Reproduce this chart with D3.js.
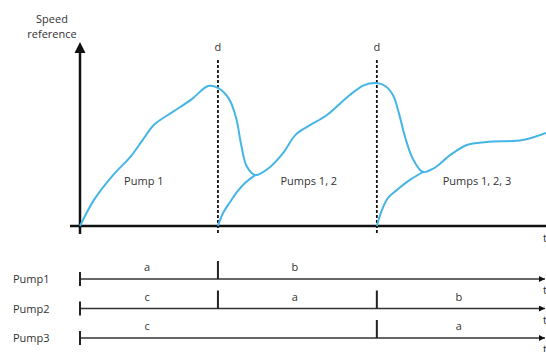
<!DOCTYPE html>
<html lang="en">
<head>
<meta charset="UTF-8" />
<title>Speed reference</title>
<style>
body { margin: 0; background: #fff; }
svg { display: block; font-family: "Open Sans", "Liberation Sans", sans-serif; }
.lbl { font-size: 11px; fill: #333; }
</style>
</head>
<body>
<svg id="chart" width="546" height="352"></svg>
<script src="https://cdn.jsdelivr.net/npm/d3@7"></script>
<script>
// switch moments (d) on the time axis, 0..10
const switchTimes = [2.96, 6.37];

// speed reference curves: [time, speed]
const mainCurve = [
  [0, 0], [0.3, 14.5], [0.7, 28], [1.1, 39], [1.35, 48], [1.6, 56.5], [2.0, 63.5],
  [2.4, 70.5], [2.75, 77.8], [2.96, 76.7], [3.2, 70.5], [3.35, 60], [3.46, 45],
  [3.58, 33], [3.76, 28.3], [4.08, 32.8], [4.36, 40.6], [4.62, 50.5], [4.9, 55.5],
  [5.3, 61.7], [5.79, 72.8], [6.1, 78.3], [6.35, 79.4], [6.55, 77.8], [6.72, 72.5],
  [6.85, 62], [6.98, 49], [7.15, 37], [7.36, 30], [7.6, 32.2], [7.95, 39.5],
  [8.3, 45], [8.73, 46.7], [9.5, 47.8], [10, 51.7]
];
const pump2Curve = [[2.96, 0], [3.07, 7.2], [3.22, 13.3], [3.37, 18.9], [3.54, 23.9], [3.76, 28.3]];
const pump3Curve = [[6.37, 0], [6.48, 8.9], [6.61, 15.6], [6.8, 20], [7.08, 25.6], [7.36, 30]];

// region labels under the curve: [time, speed, text]
const regionLabels = [[1.37, 23, "Pump 1"], [4.91, 23, "Pumps 1, 2"], [8.52, 23, "Pumps 1, 2, 3"]];

// timeline rows
const pumps = ["Pump1", "Pump2", "Pump3"];
const pumpTicks = [[2.96], [2.96, 6.37], [6.37]];
const pumpLetters = [
  [[1.44, "a"], [4.61, "b"]],
  [[1.44, "c"], [4.61, "a"], [8.13, "b"]],
  [[1.44, "c"], [8.13, "a"]]
];

const svg = d3.select("#chart");
const x = d3.scaleLinear().domain([0, 10]).range([80, 546]);
const y = d3.scaleLinear().domain([0, 100]).range([226, 46]);
const rowY = d3.scalePoint().domain(pumps).range([279, 338]);

svg.append("defs").append("marker")
  .attr("id", "arr").attr("viewBox", "0 0 10 10").attr("refX", 10).attr("refY", 5)
  .attr("markerWidth", 4).attr("markerHeight", 4).attr("orient", "auto")
  .append("path").attr("d", "M0,0L10,5L0,10Z").attr("fill", "#111");

// axes
svg.append("line").attr("x1", x(0) - 10).attr("x2", x(10)).attr("y1", y(0)).attr("y2", y(0))
  .attr("stroke", "#111").attr("stroke-width", 2.5);
svg.append("line").attr("x1", x(0)).attr("x2", x(0)).attr("y1", y(0) + 8).attr("y2", y(100) + 6)
  .attr("stroke", "#111").attr("stroke-width", 2.5);
svg.append("path")
  .attr("d", `M${x(0)},${y(100) - 4}L${x(0) - 5.5},${y(100) + 7}L${x(0) + 5.5},${y(100) + 7}Z`)
  .attr("fill", "#111");

svg.append("text").attr("class", "lbl").attr("x", 52).attr("y", 23).attr("text-anchor", "middle").text("Speed");
svg.append("text").attr("class", "lbl").attr("x", 52).attr("y", 38).attr("text-anchor", "middle").text("reference");
svg.append("text").attr("class", "lbl").attr("x", x(10) - 3).attr("y", y(0) + 16).text("t");

// switch lines
switchTimes.forEach(t => {
  svg.append("line").attr("x1", x(t)).attr("x2", x(t)).attr("y1", y(0) + 7).attr("y2", 60)
    .attr("stroke", "#111").attr("stroke-width", 1.8).attr("stroke-dasharray", "3,2");
  svg.append("text").attr("class", "lbl").attr("x", x(t)).attr("y", 51).attr("text-anchor", "middle").text("d");
});

// curves
const line = d3.line().x(d => x(d[0])).y(d => y(d[1])).curve(d3.curveCatmullRom.alpha(0.5));
[mainCurve, pump2Curve, pump3Curve].forEach(c => {
  svg.append("path").attr("d", line(c)).attr("fill", "none")
    .attr("stroke", "#45b5e6").attr("stroke-width", 2);
});

regionLabels.forEach(r => {
  svg.append("text").attr("class", "lbl").attr("x", x(r[0])).attr("y", y(r[1]))
    .attr("text-anchor", "middle").text(r[2]);
});

// timeline
pumps.forEach((p, i) => {
  const yy = rowY(p);
  svg.append("text").attr("class", "lbl").attr("x", 13).attr("y", yy + 4).text(p);
  svg.append("line").attr("x1", x(0)).attr("x2", x(10) - 1).attr("y1", yy).attr("y2", yy)
    .attr("stroke", "#333").attr("stroke-width", 1.5).attr("marker-end", "url(#arr)");
  svg.append("line").attr("x1", x(0)).attr("x2", x(0)).attr("y1", yy - 7).attr("y2", yy + 7)
    .attr("stroke", "#222").attr("stroke-width", 2);
  pumpTicks[i].forEach(t => {
    svg.append("line").attr("x1", x(t)).attr("x2", x(t)).attr("y1", yy - 18).attr("y2", yy)
      .attr("stroke", "#222").attr("stroke-width", 2);
  });
  pumpLetters[i].forEach(l => {
    svg.append("text").attr("class", "lbl").attr("x", x(l[0])).attr("y", yy - 8)
      .attr("text-anchor", "middle").text(l[1]);
  });
  svg.append("text").attr("class", "lbl").attr("x", x(10) - 3).attr("y", yy + 15).text("t");
});
</script>
</body>
</html>
